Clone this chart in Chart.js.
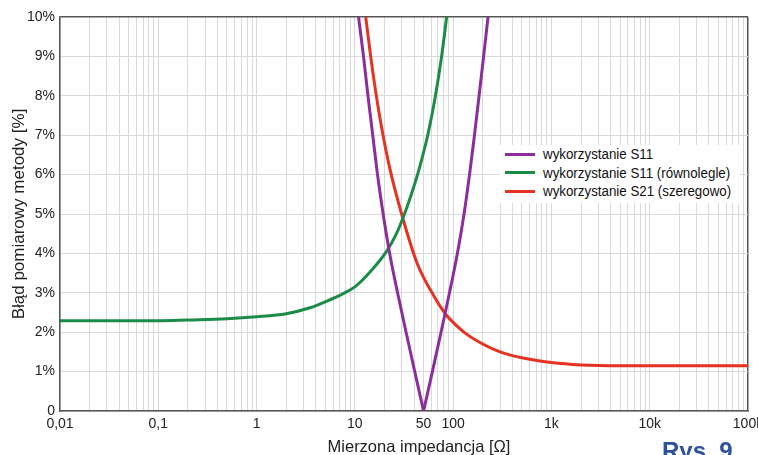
<!DOCTYPE html>
<html lang="pl">
<head>
<meta charset="utf-8">
<title>Błąd pomiarowy metody</title>
<script src="https://cdn.jsdelivr.net/npm/chart.js@4.4.1/dist/chart.umd.min.js"></script>
<style>
  body { margin: 0; background: #fff; }
  #wrap { position: relative; width: 758px; height: 455px; overflow: hidden; background: #fff; }
  #legend {
    position: absolute; left: 500px; top: 145px; width: 240px; height: 58px;
    background: #fff; font: 15.5px "Liberation Sans", Arial, sans-serif; color: #111;
  }
  #legend .row { display: flex; align-items: center; height: 18.5px; white-space: nowrap; }
  #legend .swatch { flex: none; width: 30px; height: 3px; margin: 0 8px 0 5px; }
  #legend .txt { display: inline-block; transform: scaleX(0.86); transform-origin: left center; }
  #rys {
    position: absolute; left: 662px; top: 437px; line-height: 23px;
    font: bold 24px "Liberation Sans", Arial, sans-serif; color: #2f4f9f;
  }
</style>
</head>
<body>
<div id="wrap">
  <canvas id="myChart" width="758" height="455"></canvas>
  <div id="legend"></div>
  <div id="rys">Rys. 9</div>
</div>
<script>
// values: impedance [ohm] -> error [%]
// S11 is a V with its tip at 50 ohm, kept as two branches so the tip stays sharp
const s11LeftZ = [10.9, 12.25, 13.6, 15.2, 17.0, 19.4, 22.6, 27.2, 33.2, 40.7, 50];
const s11LeftErr = [10, 9, 8, 7, 6, 5, 4, 3, 2, 1, 0];
const s11RightZ = [50, 61.5, 75.3, 91.8, 110.4, 129.1, 146.8, 164.8, 183.6, 204.2, 226.5];
const s11RightErr = [0, 1, 2, 3, 4, 5, 6, 7, 8, 9, 10];

const s11ParZ = [0.01, 0.1, 0.2, 0.5, 1, 2, 3.5, 5.2, 7.6, 10, 14.2, 21, 26.5, 31, 37, 44.6, 55.7, 66.1, 76.3, 85.9];
const s11ParErr = [2.29, 2.29, 2.31, 2.34, 2.39, 2.47, 2.62, 2.79, 2.98, 3.15, 3.52, 4.05, 4.5, 4.91, 5.45, 6.1, 7.05, 8, 9, 10];

const s21Z = [12.9, 14.4, 16.3, 18.7, 22.7, 29.9, 43, 65, 84.3, 100, 137, 200, 300, 500, 1000, 2000, 5000, 100000];
const s21Err = [10, 9.05, 8.1, 7.2, 6.15, 5, 3.75, 2.88, 2.45, 2.25, 1.95, 1.7, 1.5, 1.35, 1.23, 1.17, 1.15, 1.15];

const seriesLabels = ['wykorzystanie S11', 'wykorzystanie S11 (równolegle)', 'wykorzystanie S21 (szeregowo)'];
const seriesColors = ['#8c2d9c', '#1b8c48', '#e63222'];

const xTickValues = [0.01, 0.1, 1, 10, 50, 100, 1000, 10000, 100000];
const xTickLabels = ['0,01', '0,1', '1', '10', '50', '100', '1k', '10k', '100k'];
const yTickLabels = ['0', '1%', '2%', '3%', '4%', '5%', '6%', '7%', '8%', '9%', '10%'];

const xTitle = 'Mierzona impedancja [Ω]';
const yTitle = 'Błąd pomiarowy metody [%]';

const sans = '"Liberation Sans", Arial, sans-serif';

function toPoints(xs, ys) {
  return xs.map((x, i) => ({ x: x, y: ys[i] }));
}

// log grid: 1..9 in every decade
function logGrid() {
  let vals = [];
  for (let e = -2; e < 5; e++) {
    for (let m = 1; m < 10; m++) {
      vals.push(parseFloat((m * Math.pow(10, e)).toPrecision(6)));
    }
  }
  vals.push(100000);
  return vals;
}

function xLabel(value) {
  let i = xTickValues.findIndex(t => Math.abs(Math.log10(t) - Math.log10(value)) < 1e-6);
  return i < 0 ? '' : xTickLabels[i];
}

const xTitlePlugin = {
  id: 'xTitle',
  afterDraw(chart) {
    const ctx = chart.ctx;
    ctx.save();
    ctx.font = '16.5px ' + sans;
    ctx.fillStyle = '#222';
    ctx.textAlign = 'center';
    ctx.textBaseline = 'alphabetic';
    ctx.fillText(xTitle, 419, 452);
    ctx.restore();
  }
};

const data = {
  datasets: [
    { label: seriesLabels[0], data: toPoints(s11LeftZ, s11LeftErr), borderColor: seriesColors[0] },
    { label: '', data: toPoints(s11RightZ, s11RightErr), borderColor: seriesColors[0] },
    { label: seriesLabels[1], data: toPoints(s11ParZ, s11ParErr), borderColor: seriesColors[1] },
    { label: seriesLabels[2], data: toPoints(s21Z, s21Err), borderColor: seriesColors[2] }
  ]
};
data.datasets.forEach(d => {
  d.borderWidth = 3;
  d.pointRadius = 0;
  d.fill = false;
  d.cubicInterpolationMode = 'monotone';
});

const frameLine = (isEdge) => (isEdge ? '#555' : '#d9d9d9');

const config = {
  type: 'line',
  data: data,
  options: {
    responsive: false,
    animation: false,
    layout: { padding: { top: 17, right: 10, left: 0, bottom: 0 } },
    plugins: { legend: { display: false }, tooltip: { enabled: false } },
    scales: {
      x: {
        type: 'logarithmic',
        min: 0.01,
        max: 100000,
        afterBuildTicks(scale) {
          scale.ticks = logGrid().map(v => ({ value: v }));
        },
        afterFit(scale) {
          scale.height = 44;
          scale.paddingLeft = 0;
          scale.paddingRight = 0;
        },
        ticks: {
          autoSkip: false,
          maxRotation: 0,
          padding: 5,
          color: '#222',
          font: { family: sans, size: 14 },
          callback: (value) => xLabel(value)
        },
        grid: {
          drawTicks: false,
          color: c => frameLine(c.index === c.chart.scales.x.ticks.length - 1),
          lineWidth: c => (c.index === c.chart.scales.x.ticks.length - 1 ? 1.5 : 1)
        },
        border: { color: '#555', width: 1.5 }
      },
      y: {
        min: 0,
        max: 10,
        afterFit(scale) {
          scale.width = 60;
        },
        ticks: {
          stepSize: 1,
          padding: 5,
          color: '#222',
          font: { family: sans, size: 14 },
          callback: (value, index) => yTickLabels[index]
        },
        grid: {
          drawTicks: false,
          color: c => frameLine(c.index === 10),
          lineWidth: c => (c.index === 10 ? 1.5 : 1)
        },
        border: { color: '#555', width: 1.5 },
        title: {
          display: true,
          text: yTitle,
          color: '#222',
          font: { family: sans, size: 17 },
          padding: { top: 9, bottom: 0 }
        }
      }
    }
  },
  plugins: [xTitlePlugin]
};

const myChart = new Chart(document.getElementById('myChart').getContext('2d'), config);

// legend inside the plot
const legend = document.getElementById('legend');
myChart.data.datasets.forEach(ds => {
  if (!ds.label) return;
  let row = document.createElement('div');
  row.classList.add('row');
  let sw = document.createElement('span');
  sw.classList.add('swatch');
  sw.style.background = ds.borderColor;
  let txt = document.createElement('span');
  txt.classList.add('txt');
  txt.textContent = ds.label;
  row.appendChild(sw);
  row.appendChild(txt);
  legend.appendChild(row);
});
</script>
</body>
</html>
